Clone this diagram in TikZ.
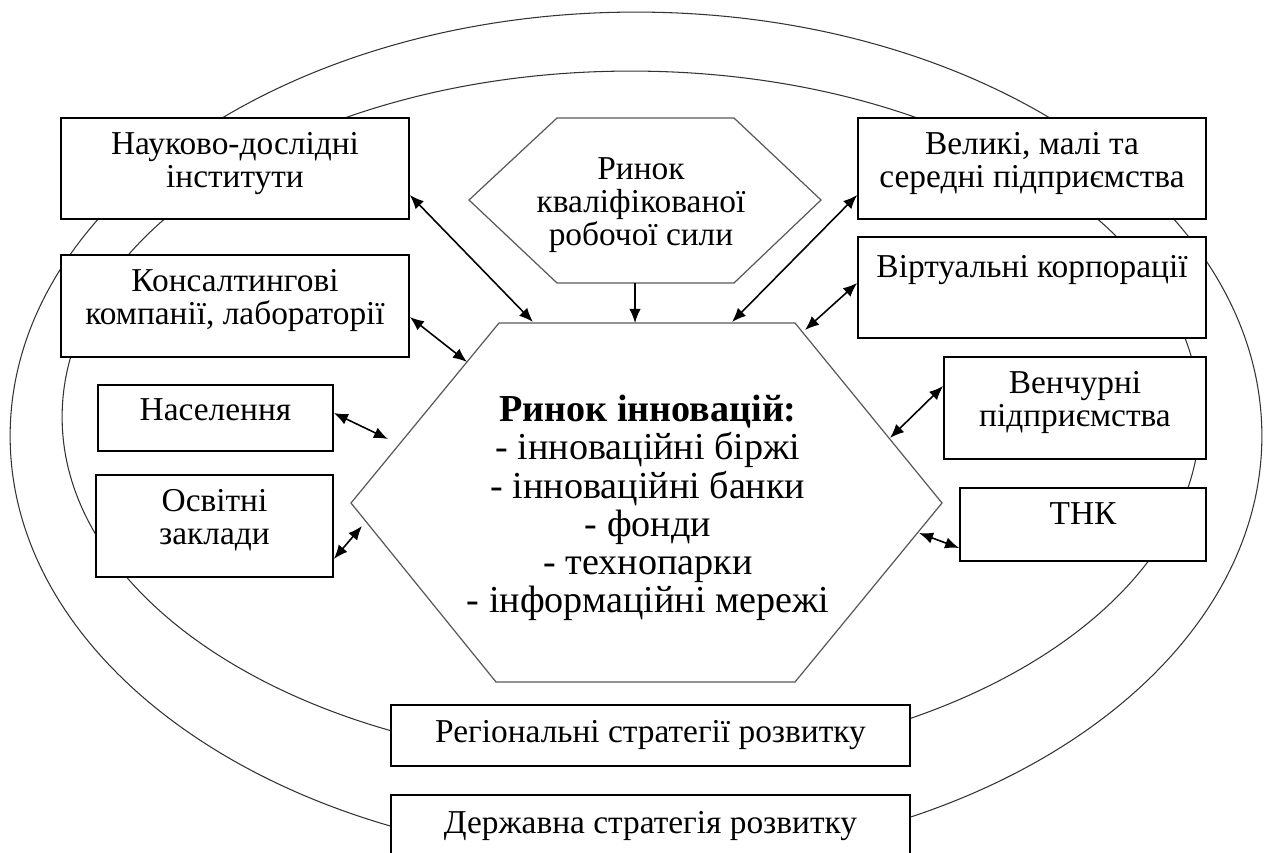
\documentclass[tikz,border=0pt]{standalone}
\usepackage{fontspec}
\setmainfont{Liberation Serif}
\usetikzlibrary{arrows.meta}

\begin{document}
\begin{tikzpicture}[x=0.02cm,y=-0.02cm,
        box/.style={draw=black,fill=white,line width=1pt,align=center,inner sep=2pt,font=\fontsize{19}{18.8}\selectfont},
        lifted/.style={text depth=10pt},
        ring/.style={draw=black!80,line width=0.6pt},
        hexline/.style={draw=black!65,line width=0.7pt},
        arr/.style={line width=0.9pt,>={Latex[length=8pt,width=6.5pt]}}]

        \useasboundingbox (0,0) rectangle (1264,852);

        % strategy rings
        \draw[ring] (636,436) ellipse [x radius=12.52cm, y radius=8.48cm];
        \draw[ring] (631,417) ellipse [x radius=11.38cm, y radius=6.92cm];

        % left side
        \node[box,lifted,minimum width=6.96cm,minimum height=2.02cm] (nd) at (235,168.5) {Науково-дослідні\\інститути};
        \node[box,lifted,minimum width=6.96cm,minimum height=2.04cm] (kons) at (235,306) {Консалтингові\\компанії, лабораторії};
        \node[box,lifted,minimum width=4.7cm,minimum height=1.32cm] (pop) at (215.5,418) {Населення};
        \node[box,lifted,minimum width=4.74cm,minimum height=2.04cm] (osv) at (214.5,526) {Освітні\\заклади};

        % right side
        \node[box,lifted,minimum width=6.96cm,minimum height=2.02cm] (vel) at (1032,168.5) {Великі, малі та\\середні підприємства};
        \node[box,minimum width=6.96cm,minimum height=2.02cm] (virt) at (1032,287.5) {Віртуальні корпорації\\[5pt]\mbox{}};
        \node[box,lifted,minimum width=5.24cm,minimum height=2.04cm] (ven) at (1075,408) {Венчурні\\підприємства};
        \node[box,minimum width=4.92cm,minimum height=1.46cm] (tnk) at (1083,524.5) {ТНК\\[-6pt]\mbox{}};

        % bottom
        \node[box,minimum width=10.38cm,minimum height=1.22cm] (reg) at (650.5,735.5) {Регіональні стратегії розвитку};
        \node[box,minimum width=10.38cm,minimum height=1.24cm] (state) at (650.5,826) {Державна стратегія розвитку};

        % hexagons
        \draw[hexline] (469,200) -- (557,118) -- (734,118) -- (821,200) -- (734,283) -- (557,283) -- cycle;
        \node[align=center,font=\fontsize{19}{18.8}\selectfont] (labour) at (641,205) {Ринок\\кваліфікованої\\робочої сили};

        \draw[hexline] (351,503) -- (499,323) -- (795,323) -- (942,503) -- (795,682) -- (496,682) -- cycle;
        \node[align=center,font=\fontsize{21.7}{21.8}\selectfont] (mkt) at (648,508)
            {\textbf{Ринок інновацій:}\\- інноваційні біржі\\- інноваційні банки\\- фонди\\- технопарки\\- інформаційні мережі};

        \coordinate (labourS) at (635,283);
        \coordinate (mktN) at (635,323);
        \coordinate (inNd) at (533,322);
        \coordinate (inKons) at (467,362);
        \coordinate (inPop) at (388,439);
        \coordinate (inOsv) at (362,526);
        \coordinate (inVel) at (732,322);
        \coordinate (inVirt) at (805,330);
        \coordinate (inVen) at (890,438);
        \coordinate (inTnk) at (919,533);

        \path[arr,->] (labourS) edge (mktN);
        \path[arr,<->] ([yshift=-0.53cm]nd.east) edge (inNd);
        \path[arr,<->] ([yshift=-0.22cm]kons.east) edge (inKons);
        \path[arr,<->] ([yshift=0.1cm]pop.east) edge (inPop);
        \path[arr,<->] ([yshift=-0.66cm]osv.east) edge (inOsv);
        \path[arr,<->] ([yshift=-0.53cm]vel.west) edge (inVel);
        \path[arr,<->] ([yshift=0.09cm]virt.west) edge (inVirt);
        \path[arr,<->] ([yshift=0.44cm]ven.west) edge (inVen);
        \path[arr,<->] ([yshift=-0.47cm]tnk.west) edge (inTnk);

\end{tikzpicture}
\end{document}
